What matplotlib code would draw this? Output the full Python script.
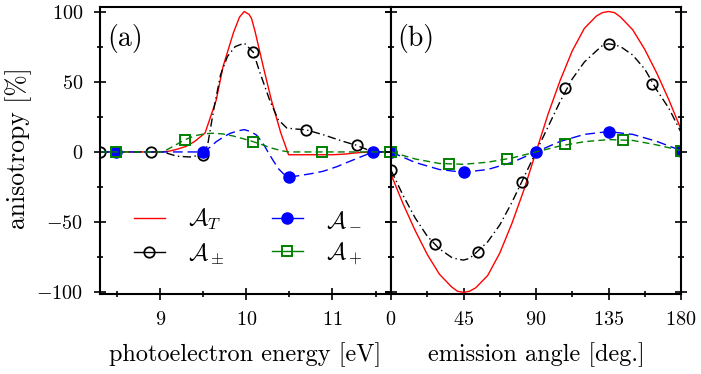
import matplotlib
matplotlib.use('Agg')
import matplotlib.pyplot as plt
from matplotlib.lines import Line2D
from matplotlib.ticker import MultipleLocator

plt.rcParams['font.family'] = 'serif'
plt.rcParams['font.serif'] = ['cmr10']
plt.rcParams['mathtext.fontset'] = 'cm'
plt.rcParams['axes.formatter.use_mathtext'] = True

# ---- panel (a): vs photoelectron energy [eV] ----
e_T = [8.30, 9.00, 9.10, 9.20, 9.30, 9.40, 9.52, 9.65, 9.73, 9.80, 9.85, 9.92, 9.975,
       10.03, 10.06, 10.10, 10.195, 10.29, 10.40, 10.49, 11.00, 11.15, 11.25, 11.35, 11.45, 11.68]
a_T = [0, 0, 0.5, 2, 4, 7.5, 13.5, 37, 61, 75, 85, 96, 100,
       98, 95, 86, 61, 37, 13.5, -2, -2, -1.5, -0.8, -0.3, 0, 0]

e_pm = [8.30, 9.03, 9.19, 9.34, 9.50, 9.55, 9.62, 9.70, 9.78, 9.87, 9.975, 10.08, 10.16,
        10.27, 10.37, 10.47, 10.58, 10.69, 10.89, 11.12, 11.28, 11.47, 11.68]
a_pm = [0, 0, -3, -3.6, -1.9, 5, 30, 55, 68, 75, 77.5, 71, 56,
        37, 23, 17, 16.3, 15.8, 12.3, 7.6, 4.7, 0, 0]

e_m = [8.30, 9.50, 9.58, 9.65, 9.73, 9.81, 9.90, 9.975, 10.05, 10.12, 10.19, 10.25, 10.31,
       10.37, 10.43, 10.49, 10.60, 10.75, 10.89, 11.05, 11.20, 11.35, 11.47, 11.68]
a_m = [0, 0, 3.5, 7.3, 10.5, 13.2, 15, 15.9, 14.5, 11.9, 6.5, 0, -6,
       -11.8, -15.5, -18, -17, -15.5, -13.8, -10.5, -6.7, -3, 0, 0]

e_p = [8.30, 9.03, 9.15, 9.29, 9.40, 9.52, 9.62, 9.73, 9.85, 9.97, 10.08, 10.19, 10.29,
       10.40, 10.49, 11.68]
a_p = [0, 0, 4, 8.8, 11.5, 13, 13.3, 12.8, 11.3, 9.3, 7.3, 5, 2.8, 1, 0, 0]

mk_e_pm = [8.30, 8.89, 9.50, 10.08, 10.69, 11.28]
mk_a_pm = [0, 0, -1.9, 71, 15.8, 4.7]
mk_e_m = [8.49, 9.50, 10.49, 11.47]
mk_a_m = [0, 0, -18, 0]
mk_e_p = [8.49, 9.29, 10.08, 10.88, 11.67]
mk_a_p = [0, 8.8, 7.3, 0, 0]

# ---- panel (b): vs emission angle [deg.] ----
th = [0, 7.5, 15, 22.5, 30, 37.5, 41.25, 45, 48.75, 52.5, 60, 67.5, 75, 82.5, 90,
      97.5, 105, 112.5, 120, 127.5, 131.25, 135, 138.75, 142.5, 150, 157.5, 165, 172.5, 180]
b_T = [-16, -37, -56, -73, -87, -96, -99.2, -100, -99.2, -96.8, -88, -72, -51, -27, 0,
       27, 51, 72, 88, 96.8, 99.2, 100, 99.2, 96, 87, 73, 56, 37, 16]
b_pm = [-13, -31, -47, -60, -69, -75, -76.3, -77, -75.8, -72, -64, -52, -36, -18, 0,
        18, 36, 52, 64, 72, 75.8, 77, 76.3, 75, 69, 59, 44, 31, 14]

th_s = [0, 15, 30, 45, 60, 75, 90, 105, 120, 135, 150, 165, 180]
b_m = [0, -7.5, -12.5, -14.5, -12.5, -7.5, 0, 7.5, 12.5, 14.5, 12.5, 7.5, 1]
b_p = [0, -5, -8.2, -8.8, -7.3, -4.3, 0, 4.3, 7.3, 8.8, 8.2, 5, 1]

mk_th_pm = [0, 27, 54, 81, 108, 135, 162]
mk_b_pm = [-13, -65.7, -71.4, -21.4, 45.7, 77, 48.6]
mk_th_m = [0, 45, 90, 135, 180]
mk_b_m = [0, -14.5, 0, 14.5, 1]
mk_th_p = [0, 36, 72, 108, 144, 180]
mk_b_p = [0, -8.6, -5, 5.7, 8.6, 1]

red, blue, green = '#ff0000', '#0000ff', '#008000'
lw = 1.0
dash_pm = (6, 2.5, 1, 2.5)
dash_m = (7, 3.5)
dash_p = (5, 3)
mstyle_pm = dict(marker='o', ms=7.5, mfc='none', mec='k', mew=1.3, ls='none')
mstyle_m = dict(marker='o', ms=8, mfc=blue, mec=blue, ls='none')
mstyle_p = dict(marker='s', ms=7, mfc='none', mec=green, mew=1.4, ls='none')

fig = plt.figure(figsize=(7.01, 3.74), dpi=100)
ax1 = fig.add_axes([0.1427, 0.2126, 0.4151, 0.7679])
ax2 = fig.add_axes([0.5578, 0.2126, 0.4137, 0.7679])

ax1.plot(e_T, a_T, color=red, lw=lw)
ax1.plot(e_pm, a_pm, color='k', lw=lw, dashes=dash_pm)
ax1.plot(mk_e_pm, mk_a_pm, **mstyle_pm)
ax1.plot(e_m, a_m, color=blue, lw=lw, dashes=dash_m)
ax1.plot(mk_e_m, mk_a_m, **mstyle_m)
ax1.plot(e_p, a_p, color=green, lw=lw, dashes=dash_p)
ax1.plot(mk_e_p, mk_a_p, **mstyle_p)

ax2.plot(th, b_T, color=red, lw=lw)
ax2.plot(th, b_pm, color='k', lw=lw, dashes=dash_pm)
ax2.plot(mk_th_pm, mk_b_pm, **mstyle_pm)
ax2.plot(th_s, b_m, color=blue, lw=lw, dashes=dash_m)
ax2.plot(mk_th_m, mk_b_m, **mstyle_m)
ax2.plot(th_s, b_p, color=green, lw=lw, dashes=dash_p)
ax2.plot(mk_th_p, mk_b_p, **mstyle_p)

ax1.set_xlim(8.3, 11.68)
ax2.set_xlim(0, 180)
for ax in (ax1, ax2):
    ax.set_ylim(-101.5, 103)
    ax.yaxis.set_major_locator(MultipleLocator(50))
    ax.yaxis.set_minor_locator(MultipleLocator(25))
    for s in ax.spines.values():
        s.set_linewidth(1.5)
    ax.tick_params(which='major', direction='inout', length=8, width=1.2,
                   top=False, right=True, labelsize=14.5, pad=8)
    ax.tick_params(which='minor', direction='inout', length=5, width=1.2,
                   top=False, right=True)
ax1.xaxis.set_major_locator(MultipleLocator(1))
ax1.xaxis.set_minor_locator(MultipleLocator(0.5))
ax2.xaxis.set_major_locator(MultipleLocator(45))
ax2.xaxis.set_minor_locator(MultipleLocator(22.5))
ax2.tick_params(labelleft=False)

ax1.set_xlabel('photoelectron energy [eV]', fontsize=17.5)
ax2.set_xlabel('emission angle [deg.]', fontsize=17.5)
ax1.set_ylabel('anisotropy [%]', fontsize=18.5)
ax1.xaxis.set_label_coords(0.5, -0.165)
ax2.xaxis.set_label_coords(0.5, -0.165)
ax1.yaxis.set_label_coords(-0.234, 0.51)

ax1.text(0.024, 0.893, '(a)', transform=ax1.transAxes, fontsize=20, va='center', ha='left')
ax2.text(0.021, 0.893, '(b)', transform=ax2.transAxes, fontsize=20, va='center', ha='left')

handles = [
    Line2D([], [], color=red, lw=lw),
    Line2D([], [], color='k', lw=lw, marker='o', ms=7.5, mfc='none', mew=1.3),
    Line2D([], [], color=blue, lw=lw, marker='o', ms=8, mfc=blue),
    Line2D([], [], color=green, lw=lw, marker='s', ms=7, mfc='none', mew=1.4),
]
labels = [r'$\mathcal{A}_T$', r'$\mathcal{A}_\pm$', r'$\mathcal{A}_-$', r'$\mathcal{A}_+$']
ax1.legend(handles, labels, ncol=2, loc='center', bbox_to_anchor=(0.51, 0.2),
           frameon=False, fontsize=17, handlelength=1.3, handletextpad=1.0,
           columnspacing=2.0, labelspacing=0.4, numpoints=1)

fig.savefig('out.png', dpi=100)
